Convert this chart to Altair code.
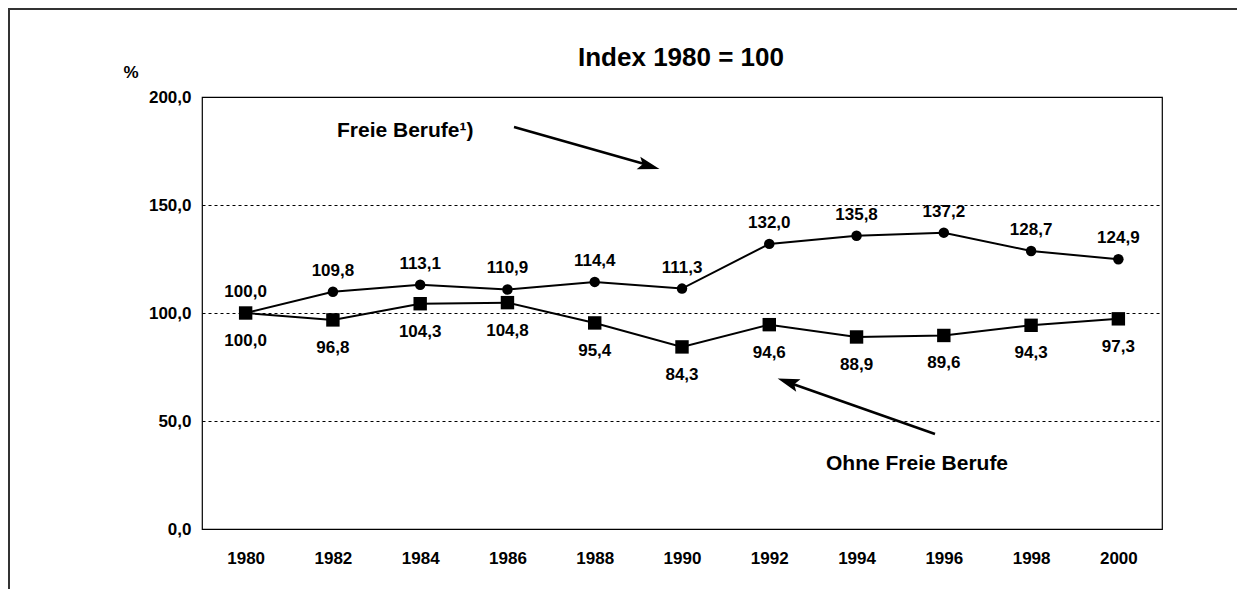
import altair as alt
import pandas as pd

years = ["1980", "1982", "1984", "1986", "1988", "1990", "1992", "1994", "1996", "1998", "2000"]
freie = [100.0, 109.8, 113.1, 110.9, 114.4, 111.3, 132.0, 135.8, 137.2, 128.7, 124.9]
ohne = [100.0, 96.8, 104.3, 104.8, 95.4, 84.3, 94.6, 88.9, 89.6, 94.3, 97.3]
y_ticks = [0, 50, 100, 150, 200]

FONT = "Liberation Sans"
fmt = "replace(format(datum.value, '.1f'), '.', ',')"

df_f = pd.DataFrame({"year": years, "value": freie})
df_o = pd.DataFrame({"year": years, "value": ohne})

x = alt.X("year:O", sort=years,
          scale=alt.Scale(type="point", padding=0.5),
          axis=alt.Axis(title=None, labelAngle=0, ticks=False, domain=False,
                        labelPadding=21, labelFontSize=17, labelFont=FONT,
                        labelFontWeight="bold", labelColor="black", grid=False))
y = alt.Y("value:Q", scale=alt.Scale(domain=[0, 200]),
          axis=alt.Axis(title=None, values=y_ticks, labelExpr=fmt, ticks=False,
                        domain=False, labelPadding=11, labelFontSize=17,
                        labelFont=FONT, labelFontWeight="bold", labelColor="black",
                        grid=True, gridDash=[3, 3], gridColor="black",
                        gridWidth=1, gridOpacity=1))

base_f = alt.Chart(df_f).encode(x=x, y=y)
base_o = alt.Chart(df_o).encode(x=x, y=y)

line_f = base_f.mark_line(color="black", strokeWidth=2)
pts_f = base_f.mark_point(shape="circle", filled=True, color="black", opacity=1, size=110)
lab_f = base_f.transform_calculate(lab=fmt).mark_text(
    font=FONT, fontSize=17, fontWeight="bold", color="black", dy=-21, baseline="middle"
).encode(text="lab:N")

line_o = base_o.mark_line(color="black", strokeWidth=2)
pts_o = base_o.mark_point(shape="square", filled=True, color="black", opacity=1, size=180)
lab_o = base_o.transform_calculate(lab=fmt).mark_text(
    font=FONT, fontSize=17, fontWeight="bold", color="black", dy=28, baseline="middle"
).encode(text="lab:N")

one = pd.DataFrame({"k": [0]})

def txt(s, px, py, size, align="center"):
    return alt.Chart(pd.DataFrame({"t": [s]})).mark_text(
        font=FONT, fontSize=size, fontWeight="bold", color="black",
        align=align, baseline="middle"
    ).encode(x=alt.value(px), y=alt.value(py), text="t:N")

title = txt("Index 1980 = 100", 479, -39, 26)
pct = txt("%", -71, -24, 17)
ann_f = txt("Freie Berufe\u00b9)", 135, 34, 21, align="left")
ann_o = txt("Ohne Freie Berufe", 624, 367, 21, align="left")

arrow_path = "M 1 0 L -1 -0.6 L -0.6 0 L -1 0.6 Z"

arr1_line = alt.Chart(one).mark_rule(color="black", strokeWidth=2.5).encode(
    x=alt.value(312), y=alt.value(30), x2=alt.value(446), y2=alt.value(68))
arr1_head = alt.Chart(one).mark_point(shape=arrow_path, filled=True, color="black",
                                      opacity=1, size=480, angle=16).encode(
    x=alt.value(447), y=alt.value(69))
arr2_line = alt.Chart(one).mark_rule(color="black", strokeWidth=2.5).encode(
    x=alt.value(733), y=alt.value(337), x2=alt.value(588), y2=alt.value(286))
arr2_head = alt.Chart(one).mark_point(shape=arrow_path, filled=True, color="black",
                                      opacity=1, size=480, angle=199).encode(
    x=alt.value(586), y=alt.value(285))

# outer frame: only its top and left edges fall inside the drawing
frame = alt.Chart(one).mark_rect(filled=False, stroke="#333", strokeWidth=2,
                                 fillOpacity=0).encode(
    x=alt.value(-193), x2=alt.value(1400), y=alt.value(-88), y2=alt.value(800))

chart = alt.layer(
    line_f, line_o, pts_f, pts_o, lab_f, lab_o,
    title, pct, ann_f, ann_o,
    arr1_line, arr1_head, arr2_line, arr2_head,
    frame
).properties(
    width=960, height=432,
    autosize=alt.AutoSizeParams(type="none"),
    padding={"left": 194, "top": 89, "right": 75, "bottom": 60},
    background="white"
).configure_view(stroke="black", strokeWidth=1.2)

chart.save("out.html", embed_options={"renderer": "svg", "actions": False})
